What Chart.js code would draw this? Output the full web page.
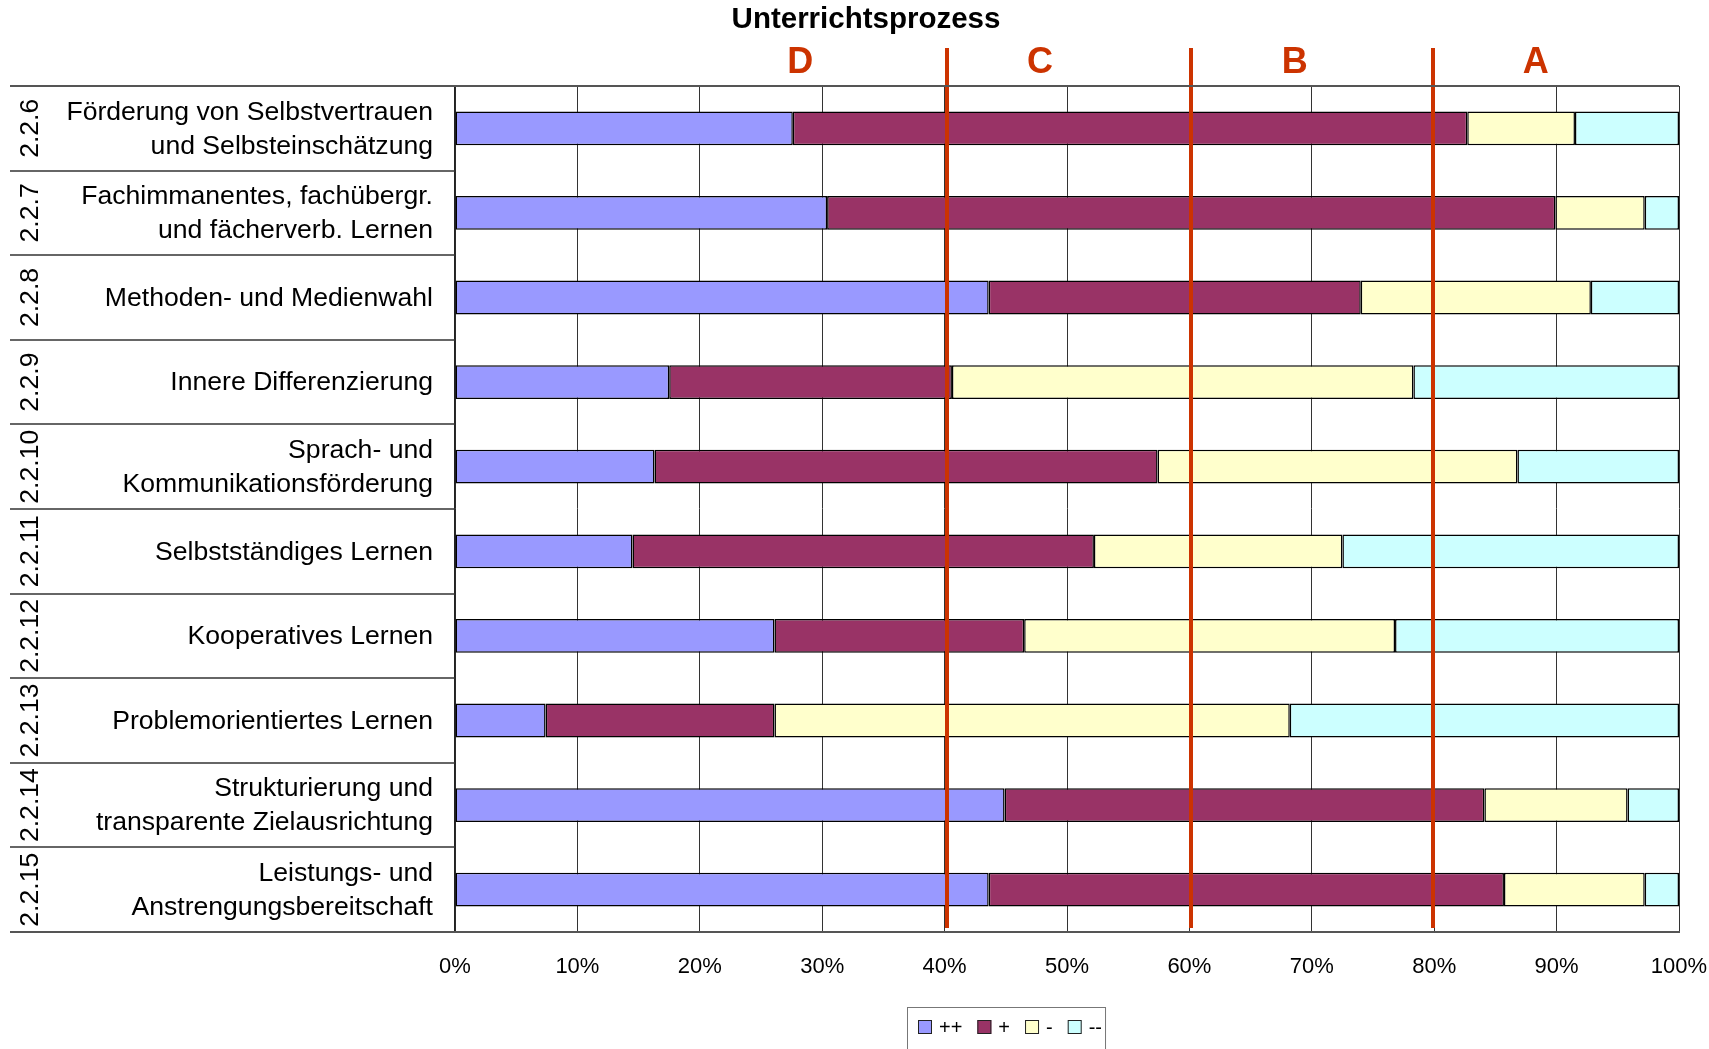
<!DOCTYPE html>
<html lang="de">
<head>
<meta charset="utf-8">
<title>Unterrichtsprozess</title>
<script src="https://cdn.jsdelivr.net/npm/chart.js@4/dist/chart.umd.min.js"></script>
<style>
    html, body { margin: 0; padding: 0; background: #fff; }
    #wrap { position: relative; width: 1709px; height: 1049px; }
</style>
</head>
<body>
<div id="wrap"><canvas id="processChart"></canvas></div>
<script>
// Categories (item number + wrapped description)
const itemNumbers = ['2.2.6', '2.2.7', '2.2.8', '2.2.9', '2.2.10', '2.2.11', '2.2.12', '2.2.13', '2.2.14', '2.2.15'];
const itemTitles = [
    ['Förderung von Selbstvertrauen', 'und Selbsteinschätzung'],
    ['Fachimmanentes, fachübergr.', 'und fächerverb. Lernen'],
    ['Methoden- und Medienwahl'],
    ['Innere Differenzierung'],
    ['Sprach- und', 'Kommunikationsförderung'],
    ['Selbstständiges Lernen'],
    ['Kooperatives Lernen'],
    ['Problemorientiertes Lernen'],
    ['Strukturierung und', 'transparente Zielausrichtung'],
    ['Leistungs- und', 'Anstrengungsbereitschaft']
];

// Shares in percent per rating
const seriesNames = ['++', '+', '-', '--'];
const veryGood = [27.6, 30.4, 43.6, 17.5, 16.3, 14.5, 26.1, 7.4, 44.9, 43.6];
const good     = [55.1, 59.5, 30.4, 23.1, 41.1, 37.7, 20.4, 18.7, 39.2, 42.1];
const weak     = [8.8, 7.3, 18.8, 37.7, 29.4, 20.3, 30.3, 42.1, 11.7, 11.5];
const veryWeak = [8.5, 2.8, 7.2, 21.7, 13.2, 27.5, 23.2, 31.8, 4.2, 2.8];
const seriesColors = ['#9999ff', '#993366', '#ffffcc', '#ccffff'];

// Axis ticks
const tickPercents = [0, 10, 20, 30, 40, 50, 60, 70, 80, 90, 100];

// Grade zones D..A with their boundaries
const zoneBounds = [40.2, 60.1, 79.9];
const zoneLetters = ['D', 'C', 'B', 'A'];
const zoneLetterAt = [28.2, 47.8, 68.6, 88.3];

const FONT = "'Liberation Sans', Arial, sans-serif";
Chart.defaults.font.family = FONT;

// Draws title, zone letters/lines, the left label column and the legend
const decorPlugin = {
    id: 'decor',
    afterDatasetsDraw(chart) {
        const ctx = chart.ctx;
        const x = chart.scales.x;
        const area = chart.chartArea;

        // red zone boundaries
        ctx.save();
        ctx.strokeStyle = '#cc3300';
        ctx.lineWidth = 4;
        zoneBounds.forEach(v => {
            const px = Math.round(x.getPixelForValue(v));
            ctx.beginPath();
            ctx.moveTo(px, 48);
            ctx.lineTo(px, area.bottom - 4);
            ctx.stroke();
        });
        ctx.restore();
    },
    afterDraw(chart) {
        const ctx = chart.ctx;
        const x = chart.scales.x;
        const y = chart.scales.y;
        const area = chart.chartArea;
        const leftEdge = 10;

        ctx.save();

        // title
        ctx.fillStyle = '#000';
        ctx.font = 'bold 29.5px ' + FONT;
        ctx.textAlign = 'center';
        ctx.textBaseline = 'middle';
        ctx.fillText('Unterrichtsprozess', 866, 20);

        // zone letters
        ctx.fillStyle = '#cc3300';
        ctx.font = 'bold 36px ' + FONT;
        zoneLetters.forEach((t, i) => {
            ctx.fillText(t, x.getPixelForValue(zoneLetterAt[i]), 63);
        });

        // top and bottom frame lines across the label column
        ctx.strokeStyle = '#555';
        ctx.lineWidth = 2;
        [area.top, area.bottom].forEach(py => {
            ctx.beginPath();
            ctx.moveTo(leftEdge, py);
            ctx.lineTo(area.right, py);
            ctx.stroke();
        });

        // row separators in the label column
        ctx.strokeStyle = '#333';
        ctx.lineWidth = 1.5;
        for (let i = 0; i < itemNumbers.length - 1; i++) {
            const py = Math.round((y.getPixelForValue(i) + y.getPixelForValue(i + 1)) / 2);
            ctx.beginPath();
            ctx.moveTo(leftEdge, py);
            ctx.lineTo(area.left, py);
            ctx.stroke();
        }

        // labels
        ctx.fillStyle = '#000';
        ctx.font = '26.6px ' + FONT;
        itemNumbers.forEach((num, i) => {
            const cy = y.getPixelForValue(i);
            // rotated item number
            ctx.save();
            ctx.translate(31, cy);
            ctx.rotate(-Math.PI / 2);
            ctx.textAlign = 'center';
            ctx.textBaseline = 'middle';
            ctx.fillText(num, 0, 0);
            ctx.restore();

            // description, right aligned
            const lines = itemTitles[i];
            const lh = 34;
            ctx.textAlign = 'right';
            ctx.textBaseline = 'middle';
            lines.forEach((ln, k) => {
                ctx.fillText(ln, 433, cy + 1 + (k - (lines.length - 1) / 2) * lh);
            });
        });

        // legend
        const lx = 907, ly = 1007;
        ctx.font = '20px ' + FONT;
        let cx = lx + 11;
        const cyL = 1027;
        const items = chart.data.datasets.map(ds => ({
            label: ds.label,
            color: ds.backgroundColor,
            w: ctx.measureText(ds.label).width
        }));
        let total = 11;
        items.forEach((it, i) => { total += 14 + 7 + it.w + (i < items.length - 1 ? 15 : 3); });
        ctx.strokeStyle = '#777';
        ctx.lineWidth = 1;
        ctx.strokeRect(lx + 0.5, ly + 0.5, total, 80);
        ctx.textAlign = 'left';
        ctx.textBaseline = 'middle';
        items.forEach(it => {
            ctx.fillStyle = it.color;
            ctx.fillRect(cx, cyL - 7, 14, 14);
            ctx.strokeStyle = '#222';
            ctx.strokeRect(cx + 0.5, cyL - 6.5, 13, 13);
            ctx.fillStyle = '#000';
            ctx.fillText(it.label, cx + 21, cyL + 1);
            cx += 14 + 7 + it.w + 15;
        });

        ctx.restore();
    }
};

const seriesValues = [veryGood, good, weak, veryWeak];

new Chart(document.getElementById('processChart'), {
    type: 'bar',
    data: {
        labels: itemNumbers,
        datasets: seriesNames.map((name, i) => ({
            label: name,
            data: seriesValues[i],
            backgroundColor: seriesColors[i],
            borderColor: '#000',
            borderWidth: 1.5,
            borderSkipped: false,
            barPercentage: 0.4,
            categoryPercentage: 1
        }))
    },
    options: {
        indexAxis: 'y',
        responsive: true,
        maintainAspectRatio: false,
        animation: false,
        layout: { padding: { left: 10, top: 86, right: 30, bottom: 0 } },
        plugins: {
            legend: { display: false },
            title: { display: false },
            tooltip: { enabled: false }
        },
        scales: {
            x: {
                stacked: true,
                min: 0,
                max: 100,
                afterBuildTicks: scale => { scale.ticks = tickPercents.map(v => ({ value: v })); },
                afterFit: scale => {
                    scale.height = 117;
                    // the right layout padding already leaves room for "100%"
                    scale.paddingLeft = 0;
                    scale.paddingRight = 0;
                },
                ticks: {
                    callback: v => v + '%',
                    color: '#000',
                    font: { size: 22 },
                    padding: 22,
                    maxRotation: 0
                },
                grid: { color: '#333', lineWidth: 1, drawTicks: false },
                border: { color: '#555', width: 2 }
            },
            y: {
                stacked: true,
                afterFit: scale => { scale.width = 445; },
                ticks: { display: false },
                grid: { display: false, drawTicks: false },
                border: { color: '#222', width: 1.5 }
            }
        }
    },
    plugins: [decorPlugin]
});
</script>
</body>
</html>
